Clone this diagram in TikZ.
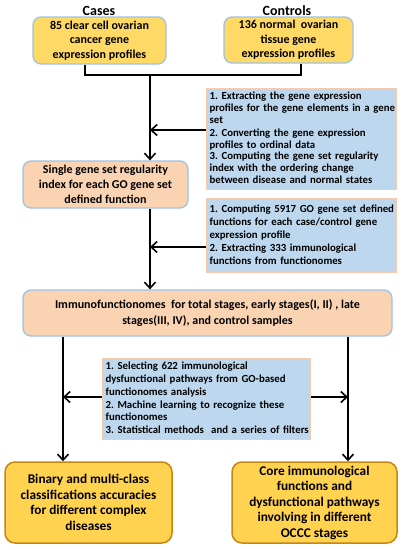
\documentclass[tikz,border=0pt]{standalone}
\usepackage{fontspec}
\setmainfont{Carlito}
\usetikzlibrary{arrows.meta}
\frenchspacing
\definecolor{yelfill}{HTML}{FFD966}
\definecolor{yelfill2}{HTML}{FFD24F}
\definecolor{bluebord}{HTML}{9DC3E6}
\definecolor{peach}{HTML}{FAD3B2}
\definecolor{lblue}{HTML}{BDD7EE}
\definecolor{orbord}{HTML}{F8CBAD}
\definecolor{brown}{HTML}{C8860E}
\newcommand{\lines}[1]{\begin{tabular}{@{}l@{}}#1\end{tabular}}
\begin{document}
\begin{tikzpicture}[x=1pt,y=-1pt,
  font=\bfseries,
  topbox/.style={draw=bluebord,line width=1.3pt,fill=yelfill,rounded corners=8pt,align=center,inner sep=2pt},
  peachbox/.style={draw=bluebord,line width=1.3pt,fill=peach,rounded corners=8pt,align=center,inner sep=2pt},
  notebox/.style={draw=orbord,line width=1.2pt,fill=lblue,align=left,inner xsep=3pt,inner ysep=2pt,anchor=north west},
  endbox/.style={draw=brown,line width=1.5pt,fill=yelfill2,rounded corners=10pt,align=center,inner sep=2pt},
  conn/.style={line width=2pt,black},
  arr/.style={conn,-{Straight Barb[length=6pt,width=11pt,line width=1.6pt]}}]
\useasboundingbox (0,0) rectangle (405,550);
\node[font=\bfseries\fontsize{14}{16}\selectfont] (caseslbl) at (99,11) {Cases};
\node[font=\bfseries\fontsize{14}{16}\selectfont] (ctrllbl) at (287,11) {Controls};
\node[topbox,minimum width=133pt,minimum height=47pt,font=\bfseries\fontsize{12}{14.5}\selectfont] (casesbox) at (99.5,40.5)
  {85 clear cell ovarian\\cancer gene\\expression profiles};
\node[topbox,minimum width=129pt,minimum height=46pt,font=\bfseries\fontsize{12}{14.5}\selectfont] (ctrlbox) at (288.5,40)
  {136 normal\ \ ovarian\\tissue gene\\expression profiles};
\node[notebox,minimum height=97pt,text width=184pt,font=\bfseries\fontsize{10.8}{12.3}\selectfont] (noteA) at (206,88)
  {\lines{1. Extracting the gene expression\\profiles for the gene elements in a gene\\set\\2. Converting the gene expression\\profiles to ordinal data\\[-1.5pt]3. Computing the gene set regularity\\index with the ordering change\\between disease and normal states}};
\node[peachbox,minimum width=165pt,minimum height=47pt,font=\bfseries\fontsize{12}{15}\selectfont] (regbox) at (105.5,184.5)
  {Single gene set regularity\\index for each GO gene set\\defined function};
\node[notebox,minimum height=74pt,text width=184pt,font=\bfseries\fontsize{10.8}{13}\selectfont] (noteB) at (206,198)
  {\lines{1. Computing 5917 GO gene set defined\\functions for each case/control gene\\expression profile\\2. Extracting 333 immunological\\functions from functionomes}};
\node[peachbox,minimum width=369pt,minimum height=46pt,font=\bfseries\fontsize{12}{16}\selectfont] (immbox) at (207.5,313)
  {Immunofunctionomes\ \ for total stages, early stages(I, II) , late\\stages(III, IV), and control samples};
\node[notebox,minimum height=81pt,text width=202pt,font=\bfseries\fontsize{10.8}{12.8}\selectfont] (noteC) at (102,358)
  {\lines{1. Selecting 622 immunological\\dysfunctional pathways from GO-based\\functionomes analysis\\2. Machine learning to recognize these\\functionomes\\3. Statistical methods\ \ and a series of filters}};
\node[endbox,minimum width=167pt,minimum height=81pt,font=\bfseries\fontsize{13.3}{15.5}\selectfont] (binbox) at (88.5,502.5)
  {Binary and multi-class\\classifications accuracies\\for different complex\\diseases};
\node[endbox,minimum width=165pt,minimum height=81pt,font=\bfseries\fontsize{13.3}{15.5}\selectfont] (corebox) at (314.5,502.5)
  {Core immunological\\functions and\\dysfunctional pathways\\involving in different\\OCCC stages};
\coordinate (jl) at (85,75);
\coordinate (jr) at (301,75);
\coordinate (jm) at (150,75);
\coordinate (ja) at (150,130);
\coordinate (jb) at (150,247);
\coordinate (jl2) at (63,397);
\coordinate (jr2) at (348,397);
\draw[conn] (casesbox.south -| jl) -- (jl) -- (jr) -- (ctrlbox.south -| jr);
\draw[arr] (jm) -- (regbox.north -| jm);
\draw[arr] (noteA.west |- ja) -- (ja);
\draw[arr] (regbox.south -| jm) -- (immbox.north -| jm);
\draw[arr] (noteB.west |- jb) -- (jb);
\draw[arr] (immbox.south -| jl2) -- (binbox.north -| jl2);
\draw[arr] (immbox.south -| jr2) -- (corebox.north -| jr2);
\draw[arr] (noteC.west |- jl2) -- (jl2);
\draw[arr] (noteC.east |- jr2) -- (jr2);
\end{tikzpicture}
\end{document}
